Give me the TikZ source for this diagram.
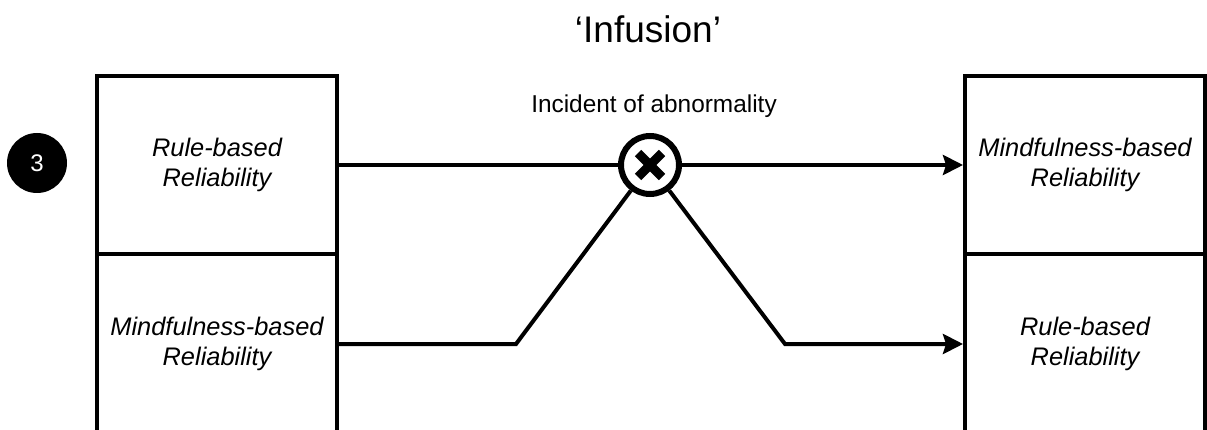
\documentclass[tikz,border=0pt]{standalone}
\usepackage{fontspec}
\setmainfont{Liberation Sans}
\usetikzlibrary{arrows.meta}
\begin{document}
\begin{tikzpicture}[x=1pt,y=-1pt,
  box/.style={draw, line width=4pt, minimum width=240pt, inner sep=0pt, align=center,
    font=\fontsize{25.4}{30}\selectfont\itshape},
  conn/.style={line width=4pt},
  arr/.style={conn, -{Stealth[length=20pt,width=20pt,inset=3pt]}},
  lbl/.style={inner sep=0pt, anchor=base}]
\useasboundingbox (0,0) rectangle (1207,430);
\clip (0,0) rectangle (1207,430);

% title and label
\node[lbl, font=\fontsize{37}{44}\selectfont] (title) at (648,43) {‘Infusion’};
\node[lbl, font=\fontsize{24.4}{29}\selectfont] (incident) at (654,113) {Incident of abnormality};

% number marker
\node[circle, fill=black, minimum size=60pt, inner sep=0pt, text=white,
  font=\fontsize{24}{28}\selectfont] (num) at (37,163) {3};

% boxes
\node[box, minimum height=178pt] (L1) at (217,165) {Rule-based\\Reliability};
\node[box, minimum height=180pt] (L2) at (217,344) {Mindfulness-based\\Reliability};
\node[box, minimum height=178pt] (R1) at (1085,165) {Mindfulness-based\\Reliability};
\node[box, minimum height=180pt] (R2) at (1085,344) {Rule-based\\Reliability};

% incident marker
\node[circle, draw, line width=6pt, minimum size=58pt, inner sep=0pt] (X) at (650,165) {};
\draw[line width=9pt] (X.center) ++(-12,-12) -- ++(24,24);
\draw[line width=9pt] (X.center) ++(12,-12) -- ++(-24,24);

% corner points
\coordinate (bl) at (516,344);
\coordinate (br) at (785,344);

% connectors
\draw[conn] (L1.east) -- (X.west);
\draw[arr] (X.east) -- (R1.west);
\draw[conn] (L2.east) -- (bl) -- (X);
\draw[arr] (X) -- (br) -- (R2.west);
\end{tikzpicture}
\end{document}
